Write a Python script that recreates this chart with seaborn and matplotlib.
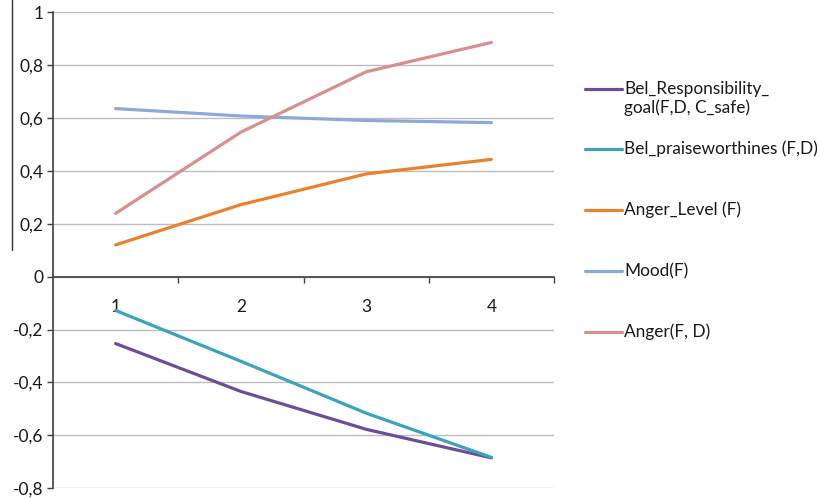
import matplotlib
matplotlib.use("Agg")
import matplotlib.pyplot as plt
from matplotlib.lines import Line2D
from matplotlib.ticker import FixedLocator, FuncFormatter
import numpy as np
import pandas as pd
import seaborn as sns

# Time steps on the category axis
steps = [1, 2, 3, 4]

# Series values per step
bel_responsibility = [-0.253, -0.434, -0.577, -0.685]
bel_praiseworthiness = [-0.128, -0.320, -0.516, -0.683]
anger_level = [0.120, 0.272, 0.388, 0.443]
mood = [0.635, 0.607, 0.590, 0.582]
anger = [0.239, 0.546, 0.774, 0.885]

series_names = [
    "Bel_Responsibility_\ngoal(F,D, C_safe)",
    "Bel_praiseworthines (F,D)",
    "Anger_Level (F)",
    "Mood(F)",
    "Anger(F, D)",
]
series_values = [bel_responsibility, bel_praiseworthiness, anger_level, mood, anger]
colors = ["#6E4C9C", "#3BA3BC", "#E9822F", "#8DA9D9", "#D88F8F"]

y_ticks = [-0.8, -0.6, -0.4, -0.2, 0, 0.2, 0.4, 0.6, 0.8, 1]

df = pd.DataFrame(
    [(s, name, v) for name, vals in zip(series_names, series_values) for s, v in zip(steps, vals)],
    columns=["step", "series", "value"],
)

sns.set_theme(style="white")
plt.rcParams["font.family"] = ["Lato", "DejaVu Sans"]

fig = plt.figure(figsize=(8.17, 4.98), dpi=100)
ax = fig.add_axes([53 / 817, 1 - 488.3 / 498, (554 - 53) / 817, (488.3 - 12) / 498])

sns.lineplot(
    data=df, x="step", y="value", hue="series", hue_order=series_names,
    palette=colors, linewidth=2.3, legend=False, ax=ax,
)

ax.set_xlim(0.5, 4.5)
ax.set_ylim(-0.8, 1.0)
ax.set_xlabel("")
ax.set_ylabel("")

# Horizontal gridlines
ax.yaxis.set_major_locator(FixedLocator(y_ticks))
ax.grid(axis="y", color="#BDBDBD", linewidth=1.0)
ax.grid(axis="x", visible=False)
ax.set_axisbelow(True)

def comma_fmt(v, _):
    s = f"{v:.1f}".rstrip("0").rstrip(".")
    if s in ("-0", ""):
        s = "0"
    return s.replace(".", ",")

ax.yaxis.set_major_formatter(FuncFormatter(comma_fmt))
ax.tick_params(axis="y", which="major", direction="out", length=4, width=1,
               color="#404040", labelsize=12.5, labelcolor="#1a1a1a", pad=3, left=True)

# Category axis crossing at zero, ticks between categories
ax.spines["bottom"].set_position(("data", 0))
ax.spines["bottom"].set_color("#404040")
ax.spines["bottom"].set_linewidth(1.2)
ax.spines["left"].set_color("#404040")
ax.spines["left"].set_linewidth(1.2)
ax.spines["top"].set_visible(False)
ax.spines["right"].set_visible(False)

ax.xaxis.set_major_locator(FixedLocator(steps))
ax.xaxis.set_major_formatter(FuncFormatter(lambda v, _: f"{int(v)}"))
ax.xaxis.set_minor_locator(FixedLocator([1.5, 2.5, 3.5, 4.5]))
ax.tick_params(axis="x", which="major", length=0, pad=16, labelsize=12.5, labelcolor="#1a1a1a")
ax.tick_params(axis="x", which="minor", direction="out", length=4.5, width=1,
               color="#404040", bottom=True)

# Legend entries on the right
legend_y = [89, 149, 210, 271, 332]
for name, color, yp in zip(series_names, colors, legend_y):
    yf = 1 - yp / 498
    fig.add_artist(Line2D([585 / 817, 622 / 817], [yf, yf], color=color, linewidth=2.3))
    first, *rest = name.split("\n")
    fig.text(624 / 817, yf, first, ha="left", va="center", fontsize=12.4, color="#1a1a1a")
    for i, line in enumerate(rest, start=1):
        fig.text(624 / 817, 1 - (yp + 19 * i) / 498, line, ha="left", va="center",
                 fontsize=12.4, color="#1a1a1a")

# Frame edge on the left
fig.add_artist(Line2D([12 / 817, 12 / 817], [1.0, 1 - 250 / 498], color="#333333", linewidth=1.0))

fig.savefig("out.png", dpi=100)
